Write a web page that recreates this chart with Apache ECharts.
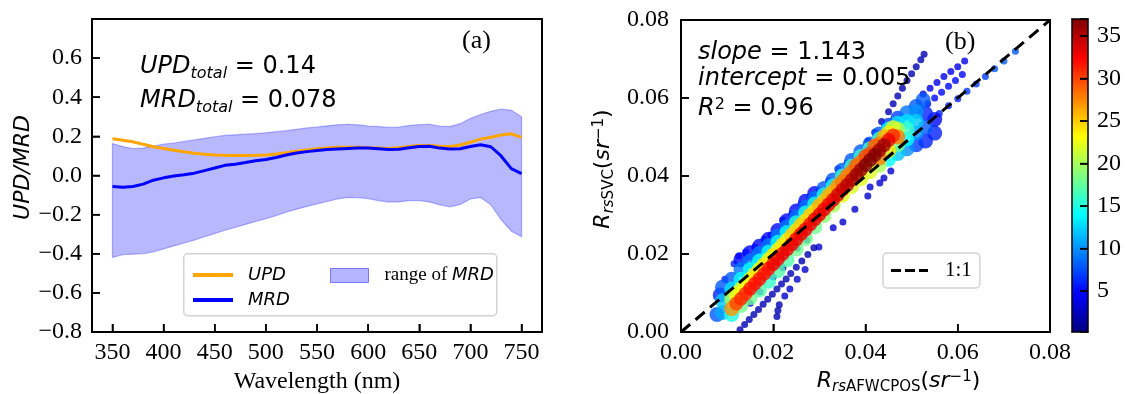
<!DOCTYPE html>
<html><head><meta charset="utf-8">
<script src="https://cdn.jsdelivr.net/npm/echarts@6/dist/echarts.min.js"></script>
<style>html,body{margin:0;padding:0;background:#fff}#c{width:1127px;height:394px}</style>
</head><body><div id="c"></div>
<script>
// ---------- panel (a) data ----------
const wavelengths = [350,360,370,380,390,400,410,420,430,440,450,460,470,480,490,500,510,520,530,540,550,560,570,580,590,600,610,620,630,640,650,660,670,680,690,700,710,720,730,740,750];
const updValues = [0.188,0.180,0.172,0.160,0.147,0.138,0.129,0.121,0.114,0.109,0.105,0.103,0.102,0.102,0.103,0.105,0.110,0.117,0.124,0.131,0.137,0.141,0.144,0.145,0.144,0.142,0.140,0.138,0.142,0.148,0.153,0.153,0.150,0.148,0.156,0.170,0.186,0.196,0.207,0.213,0.195];
const mrdValues = [-0.056,-0.060,-0.056,-0.044,-0.024,-0.012,-0.003,0.004,0.012,0.025,0.038,0.052,0.058,0.066,0.075,0.082,0.092,0.105,0.115,0.122,0.128,0.133,0.136,0.138,0.140,0.140,0.137,0.133,0.134,0.142,0.148,0.150,0.140,0.136,0.137,0.148,0.157,0.147,0.100,0.035,0.010];
const mrdUpper = [0.163,0.148,0.138,0.140,0.150,0.160,0.166,0.174,0.182,0.190,0.198,0.205,0.208,0.211,0.214,0.218,0.224,0.229,0.236,0.243,0.248,0.254,0.259,0.262,0.259,0.253,0.250,0.246,0.248,0.255,0.260,0.262,0.252,0.250,0.265,0.292,0.312,0.328,0.340,0.333,0.300];
const mrdLower = [-0.419,-0.405,-0.402,-0.400,-0.390,-0.375,-0.360,-0.345,-0.330,-0.313,-0.297,-0.280,-0.265,-0.250,-0.235,-0.221,-0.205,-0.187,-0.172,-0.158,-0.145,-0.133,-0.120,-0.112,-0.113,-0.118,-0.128,-0.136,-0.135,-0.128,-0.128,-0.135,-0.150,-0.160,-0.148,-0.120,-0.112,-0.150,-0.225,-0.285,-0.313];

// ---------- tick positions ----------
const wavelengthTicks = [350,400,450,500,550,600,650,700,750];
const ratioTicks = [-0.6,-0.4,-0.2,0.0,0.2,0.4,0.6];
const rrsTicks = [0.02,0.04,0.06];
const densityTicks = [5,10,15,20,25,30,35];

// ---------- panel (b) data: [Rrs AFWCPOS, Rrs SVC, point density] ----------
const denseCloud = [
 [0.0078,0.0045,8],[0.0085,0.0095,6],
 [0.009,0.005,11],[0.009,0.008,12],[0.009,0.0115,8],
 [0.011,0.0045,15],[0.011,0.006,27],[0.011,0.0085,20],[0.011,0.011,13],[0.011,0.0135,8],
 [0.013,0.0068,18],[0.013,0.0085,31],[0.013,0.011,22],[0.013,0.0135,14],[0.013,0.016,9],[0.013,0.0185,5],
 [0.015,0.0088,18],[0.015,0.0111,32],[0.015,0.0135,22],[0.015,0.016,14],[0.015,0.0182,9],[0.015,0.0203,5],
 [0.017,0.0108,17],[0.017,0.0136,32],[0.017,0.016,23],[0.017,0.0182,14],[0.017,0.0202,9],[0.017,0.022,5],
 [0.019,0.013,16],[0.019,0.0162,32],[0.019,0.0185,23],[0.019,0.0205,14],[0.019,0.0222,9],[0.019,0.0238,5],
 [0.021,0.0157,17],[0.021,0.0187,33],[0.021,0.021,23],[0.021,0.023,14],[0.021,0.0246,9],[0.021,0.026,5],
 [0.023,0.0185,17],[0.023,0.0212,33],[0.023,0.0235,23],[0.023,0.0255,14],[0.023,0.027,9],[0.023,0.0285,5],
 [0.025,0.0213,18],[0.025,0.0238,33],[0.025,0.026,24],[0.025,0.028,15],[0.025,0.0295,9],[0.025,0.031,5],
 [0.027,0.024,18],[0.027,0.0263,33],[0.027,0.0285,24],[0.027,0.0305,15],[0.027,0.032,9],[0.027,0.0335,5],
 [0.029,0.027,18],[0.029,0.0289,33],[0.029,0.031,24],[0.029,0.0328,15],[0.029,0.0342,9],[0.029,0.0355,5],
 [0.031,0.0298,19],[0.031,0.0314,33],[0.031,0.0335,25],[0.031,0.0352,15],[0.031,0.0368,8],
 [0.033,0.0325,20],[0.033,0.0339,33],[0.033,0.036,26],[0.033,0.0375,15],[0.033,0.039,8],
 [0.035,0.035,22],[0.035,0.0365,34],[0.035,0.0385,28],[0.035,0.040,16],[0.035,0.0415,8],
 [0.037,0.0373,22],[0.037,0.039,35],[0.037,0.041,28],[0.037,0.0425,16],[0.037,0.044,8],
 [0.039,0.0393,22],[0.039,0.0416,36],[0.039,0.0435,28],[0.039,0.045,16],[0.039,0.0462,8],
 [0.041,0.0411,22],[0.041,0.0441,37],[0.041,0.0458,30],[0.041,0.047,16],[0.041,0.0482,8],
 [0.043,0.0428,20],[0.043,0.0446,28],[0.043,0.0466,36],[0.043,0.0482,28],[0.043,0.0495,16],[0.043,0.0508,8],
 [0.045,0.0443,14],[0.045,0.0465,24],[0.045,0.0492,33],[0.045,0.051,24],[0.045,0.052,14],[0.045,0.053,7],
 [0.047,0.0458,12],[0.047,0.048,18],[0.047,0.050,28],[0.047,0.052,20],[0.047,0.0535,13],[0.047,0.0548,7],
 [0.049,0.047,10],[0.049,0.0495,14],[0.049,0.052,16],[0.049,0.054,13],[0.049,0.0562,9],
 [0.051,0.048,7],[0.051,0.051,10],[0.051,0.054,12],[0.051,0.0565,10],[0.051,0.0578,8],
 [0.053,0.049,6],[0.053,0.0525,8],[0.053,0.056,6],[0.0525,0.0595,8],
 [0.055,0.051,6],[0.055,0.0545,5],
 [0.012,0.0073,30],[0.014,0.0098,31],[0.016,0.0124,32],[0.018,0.0149,32],[0.020,0.0174,33],[0.022,0.0200,33],[0.024,0.0225,33],[0.026,0.0251,33],[0.028,0.0276,33],[0.030,0.0301,33],[0.032,0.0327,33],[0.034,0.0352,34],[0.036,0.0377,35],[0.038,0.0403,36],[0.040,0.0428,37],[0.042,0.0454,37],[0.044,0.0479,36],[0.046,0.0504,31],
 [0.012,0.0097,23],[0.014,0.0121,23],[0.016,0.0147,24],[0.018,0.0172,24],[0.020,0.0197,24],[0.022,0.0223,24],[0.024,0.0248,25],[0.026,0.0274,25],[0.028,0.0299,25],[0.030,0.0324,26],[0.032,0.0350,26],[0.034,0.0375,27],[0.036,0.0400,28],[0.038,0.0426,29],[0.040,0.0451,30],[0.042,0.0477,29],[0.044,0.0500,26],[0.046,0.0524,22]
];
const sparsePoints = [
 [0.0128,0.0006,2],[0.0138,0.0019,2],[0.0148,0.0032,2],[0.0158,0.0045,2],[0.0168,0.0058,2],[0.0178,0.0071,2],[0.0188,0.0084,2],[0.0198,0.0097,2],[0.0208,0.0110,2],[0.0218,0.0123,2],[0.0228,0.0136,2],[0.0238,0.0150,2],[0.0250,0.0166,2],[0.0262,0.0182,2],[0.0275,0.0199,2],[0.0288,0.0216,2],
 [0.0208,0.0040,2],[0.0210,0.0055,2],[0.0213,0.0070,2],[0.0225,0.0092,3],[0.0236,0.0110,3],[0.0252,0.0135,3],[0.0269,0.0160,3],[0.0299,0.0218,3],[0.0330,0.0267,3],[0.0351,0.0282,3],[0.0377,0.0315,3],[0.0405,0.0349,3],[0.0410,0.0372,3],[0.0431,0.0382,3],[0.0440,0.0395,3],[0.0455,0.0413,3],
 [0.0150,0.0074,3],[0.0171,0.0103,3],[0.0200,0.0141,3],[0.0221,0.0165,3],[0.0252,0.0215,3],[0.0273,0.0236,3],
 [0.0095,0.0135,6],[0.0115,0.0175,6],[0.0125,0.0195,5],[0.0140,0.0205,6],[0.0160,0.0218,5],[0.0180,0.0238,6],[0.0195,0.0248,5],[0.0220,0.0287,6],[0.0240,0.0302,5],[0.0260,0.0327,6],[0.0280,0.0347,5],[0.0300,0.0363,6],[0.0320,0.0388,5],[0.0340,0.0418,6],[0.0360,0.0433,5],[0.0380,0.0453,6],
 [0.0405,0.0490,2],[0.0420,0.0512,2],[0.0435,0.0540,2],[0.0450,0.0565,2],[0.0460,0.0585,2],[0.0470,0.0605,2],[0.0480,0.0625,2],[0.0490,0.0645,2],[0.0500,0.0662,2],[0.0510,0.0680,2],[0.0520,0.0698,2],[0.0527,0.0712,2],
 [0.0525,0.0610,4],[0.0540,0.0625,4],[0.0555,0.0640,4],[0.0570,0.0655,4],[0.0585,0.0668,4],[0.0600,0.0680,4],[0.0615,0.0695,4],
 [0.0535,0.0585,5],[0.0550,0.0600,5],[0.0565,0.0615,5],[0.0580,0.0630,5],[0.0595,0.0645,5],[0.0610,0.0660,5],
 [0.0560,0.0560,6],[0.0580,0.0580,6],[0.0600,0.0598,6],[0.0620,0.0617,7],[0.0640,0.0636,7],[0.0660,0.0655,7],[0.0680,0.0675,8],[0.0700,0.0695,8],[0.0725,0.0720,8]
];
const oneToOne = [[0,0],[0.08,0.08]];
const densityRange = [0.2, 37];
const colorbarTop = [37];

// ---------- styling ----------
const jet = ['#00007f','#0000ff','#0080ff','#00ffff','#80ff80','#ffff00','#ff8000','#ff0000','#7f0000'];
const SERIF = '"Liberation Serif", "Times New Roman", serif';
const SANS = '"DejaVu Sans", sans-serif';
const mainTok = {fontFamily: SANS, fontSize: 24, color: '#000', padding: [0,0,3,0], verticalAlign: 'bottom'};
const mathRich = {
  i: Object.assign({}, mainTok, {fontStyle: 'italic'}),
  n: Object.assign({}, mainTok),
  s: {fontFamily: SANS, fontSize: 16, fontStyle: 'italic', color: '#000', verticalAlign: 'bottom'},
  p: {fontFamily: SANS, fontSize: 16, color: '#000', verticalAlign: 'top'}
};
const axRich = {
  i: {fontFamily: SANS, fontSize: 22, fontStyle: 'italic', color: '#000', padding: [0,0,3,0], verticalAlign: 'bottom'},
  n: {fontFamily: SANS, fontSize: 22, color: '#000', padding: [0,0,3,0], verticalAlign: 'bottom'},
  s: {fontFamily: SANS, fontSize: 15, fontStyle: 'italic', color: '#000', verticalAlign: 'bottom'},
  u: {fontFamily: SANS, fontSize: 15, color: '#000', verticalAlign: 'bottom'},
  p: {fontFamily: SANS, fontSize: 15, color: '#000', verticalAlign: 'top'}
};
const tick = () => ({show: true, inside: true, length: 8, lineStyle: {color: '#000', width: 1.5}});
const axLine = (w) => ({show: true, onZero: false, lineStyle: {color: '#000', width: w || 2}});
const lbl = {fontFamily: SERIF, fontSize: 24, color: '#000'};
const fmtA = v => {
  if (v > 0.7) return '';
  const s = Math.abs(v).toFixed(1);
  return (v < -1e-9 ? '\u2212' : '') + s;
};
const frameAxis = (extra) => Object.assign({axisLine: axLine(extra.w), axisTick: {show: false}, axisLabel: {show: false}, splitLine: {show: false}, z: 6}, extra);
const TICK_LEN = 8;
const tickLine = (x1, y1, x2, y2) => ({type: 'line', shape: {x1: x1, y1: y1, x2: x2, y2: y2}, style: {stroke: '#000', lineWidth: 1.5}});

const chart = echarts.init(document.getElementById('c'), null, {renderer: 'canvas'});
const sortByDensity = arr => arr.slice().sort((a, b) => a[2] - b[2]);
const gridBase = {show: false, containLabel: false, outerBoundsMode: 'none'};

chart.setOption({
  animation: false,
  backgroundColor: '#fff',
  grid: [
    Object.assign({left: 92, top: 19, width: 450, height: 313}, gridBase),
    Object.assign({left: 681, top: 20, width: 369, height: 312}, gridBase),
    Object.assign({left: 1072, top: 19, width: 16, height: 313}, gridBase)
  ],
  xAxis: [
    {gridIndex: 0, type: 'value', min: 330, max: 770, splitNumber: 9, minInterval: 50, maxInterval: 50, z: 6,
     axisLine: axLine(), axisTick: tick(), splitLine: {show: false},
     axisLabel: Object.assign({margin: 9, formatter: v => (v % 50 === 0 ? String(v) : '')}, lbl),
     name: 'Wavelength (nm)', nameLocation: 'middle', nameGap: 36, nameTextStyle: {fontFamily: SERIF, fontSize: 24, color: '#000'}},
    {gridIndex: 1, type: 'value', min: 0, max: 0.08, interval: 0.02, z: 6,
     axisLine: axLine(), axisTick: tick(), splitLine: {show: false},
     axisLabel: Object.assign({margin: 9, formatter: v => v.toFixed(2)}, lbl),
     name: '{i|R}{s|rs}{u|AFWCPOS}{n|(}{i|sr}{p|\u22121}{n|)}', nameLocation: 'middle', nameGap: 36,
     nameTextStyle: {rich: axRich, padding: [0,0,0,66]}},
    frameAxis({gridIndex: 2, type: 'category', data: ['c'], position: 'bottom', w: 1.5}),
    frameAxis({gridIndex: 0, type: 'value', min: 330, max: 770, position: 'top'}),
    frameAxis({gridIndex: 1, type: 'value', min: 0, max: 0.08, position: 'top'}),
    frameAxis({gridIndex: 2, type: 'category', data: ['c'], position: 'top', w: 1.5})
  ],
  yAxis: [
    {gridIndex: 0, type: 'value', min: -0.8, max: 0.8, interval: 0.2, z: 6,
     axisLine: axLine(), axisTick: tick(), splitLine: {show: false},
     axisLabel: Object.assign({margin: 10, formatter: fmtA}, lbl),
     name: 'UPD/MRD', nameLocation: 'middle', nameGap: 56,
     nameTextStyle: {fontFamily: SANS, fontStyle: 'italic', fontSize: 22, color: '#000', padding: [0,0,0,16]}},
    {gridIndex: 1, type: 'value', min: 0, max: 0.08, interval: 0.02, z: 6,
     axisLine: axLine(), axisTick: tick(), splitLine: {show: false},
     axisLabel: Object.assign({margin: 12, formatter: v => v.toFixed(2)}, lbl),
     name: '{i|R}{s|rs}{u|SVC}{n|(}{i|sr}{p|\u22121}{n|)}', nameLocation: 'middle', nameGap: 64,
     nameTextStyle: {rich: axRich, padding: [0,0,0,14]}},
    {gridIndex: 2, type: 'value', position: 'right', min: densityRange[0], max: densityRange[1], splitNumber: 7, minInterval: 5, maxInterval: 5, z: 6,
     axisLine: axLine(1.5), axisTick: tick(), splitLine: {show: false},
     axisLabel: Object.assign({margin: 9, formatter: v => (Math.abs(v % 5) < 1e-9 && v > 0 ? String(v) : '')}, lbl)},
    frameAxis({gridIndex: 0, type: 'value', min: -0.8, max: 0.8, position: 'right'}),
    frameAxis({gridIndex: 1, type: 'value', min: 0, max: 0.08, position: 'right'}),
    frameAxis({gridIndex: 2, type: 'value', min: densityRange[0], max: densityRange[1], position: 'left', w: 1.5})
  ],
  visualMap: [{type: 'continuous', show: false, min: densityRange[0], max: densityRange[1], dimension: 2, seriesIndex: [3, 4], inRange: {color: jet}}],
  legend: [
    {data: ['UPD', 'MRD'], orient: 'vertical', left: 188, top: 261, itemWidth: 40, itemHeight: 4, icon: 'rect', itemGap: 7, z: 10,
     textStyle: {fontFamily: SANS, fontStyle: 'italic', fontSize: 18, color: '#000', padding: [0,0,0,10]}},
    {data: [{name: 'range of MRD', icon: 'rect', itemStyle: {color: 'rgba(0,0,255,0.29)', borderColor: 'rgba(0,0,255,0.45)', borderWidth: 1}}],
     left: 325, top: 261, itemWidth: 38, itemHeight: 14, z: 10,
     formatter: () => '{a|range of }{b|MRD}',
     textStyle: {padding: [0,0,0,11], rich: {a: {fontFamily: SERIF, fontSize: 19, color: '#000'}, b: {fontFamily: SANS, fontStyle: 'italic', fontSize: 18, color: '#000'}}}},
    {data: [{name: '1:1', icon: 'path://M0,0H10V3H0Z M14,0H24V3H14Z M28,0H37V3H28Z', itemStyle: {color: '#000'}}],
     left: 883, top: 253, itemWidth: 37, itemHeight: 3, z: 10,
     backgroundColor: '#fff', borderColor: '#d3d3d3', borderWidth: 1.5, borderRadius: 4, padding: [7, 8, 7, 8],
     textStyle: {fontFamily: SERIF, fontSize: 21, color: '#000', padding: [0,0,0,12]}}
  ],
  graphic: [
    {type: 'rect', left: 183, top: 253, z: 5, shape: {width: 313, height: 62, r: 4}, style: {fill: 'rgba(255,255,255,0.85)', stroke: '#d3d3d3', lineWidth: 1.5}},
    {type: 'text', left: 140, top: 55, z: 6, style: {text: '{i|UPD}{s|total}{n| = 0.14}', rich: mathRich}},
    {type: 'text', left: 140, top: 89, z: 6, style: {text: '{i|MRD}{s|total}{n| = 0.078}', rich: mathRich}},
    {type: 'text', left: 462, top: 28, z: 6, style: {text: '(a)', font: '26px ' + SERIF, fill: '#000'}},
    {type: 'text', left: 698, top: 41, z: 6, style: {text: '{i|slope}{n| = 1.143}', rich: mathRich}},
    {type: 'text', left: 698, top: 67, z: 6, style: {text: '{i|intercept}{n| = 0.005}', rich: mathRich}},
    {type: 'text', left: 698, top: 97, z: 6, style: {text: '{i|R}{p|2}{n| = 0.96}', rich: mathRich}},
    {type: 'text', left: 945, top: 29, z: 6, style: {text: '(b)', font: '26px ' + SERIF, fill: '#000'}}
  ],
  series: [
    {name: 'range of MRD', type: 'custom', xAxisIndex: 0, yAxisIndex: 0, data: [[wavelengths[0], mrdUpper[0]]],
     itemStyle: {color: 'rgba(0,0,255,0.29)'}, z: 1,
     renderItem: (params, api) => {
       const pts = [];
       for (let i = 0; i < wavelengths.length; i++) pts.push(api.coord([wavelengths[i], mrdUpper[i]]));
       for (let i = wavelengths.length - 1; i >= 0; i--) pts.push(api.coord([wavelengths[i], mrdLower[i]]));
       return {type: 'polygon', shape: {points: pts}, style: {fill: 'rgba(0,0,255,0.28)', stroke: 'rgba(0,0,255,0.28)', lineWidth: 1.2}};
     }},
    {name: 'UPD', type: 'line', xAxisIndex: 0, yAxisIndex: 0, symbol: 'none', color: '#ffa500',
     data: wavelengths.map((w, i) => [w, updValues[i]]), lineStyle: {color: '#ffa500', width: 3}, z: 2},
    {name: 'MRD', type: 'line', xAxisIndex: 0, yAxisIndex: 0, symbol: 'none', color: '#0000ff',
     data: wavelengths.map((w, i) => [w, mrdValues[i]]), lineStyle: {color: '#0000ff', width: 3}, z: 3},
    {name: 'sparse', type: 'scatter', xAxisIndex: 1, yAxisIndex: 1, symbolSize: 7, data: sortByDensity(sparsePoints), z: 2},
    {name: 'cloud', type: 'scatter', xAxisIndex: 1, yAxisIndex: 1, symbolSize: d => (d[2] >= 30 ? 14 : 15), data: sortByDensity(denseCloud), z: 3},
    {name: '1:1', type: 'line', xAxisIndex: 1, yAxisIndex: 1, symbol: 'none', color: '#000', data: oneToOne,
     lineStyle: {color: '#000', width: 3, type: [12, 7]}, z: 5},
    {name: 'colorbar', type: 'bar', xAxisIndex: 2, yAxisIndex: 2, data: colorbarTop, barWidth: '100%', z: 1,
     itemStyle: {color: new echarts.graphic.LinearGradient(0, 1, 0, 0, jet.map((c, k) => ({offset: k / (jet.length - 1), color: c})))}},
    // inward tick marks, placed through each panel's own scales
    {name: 'ticksA', type: 'custom', xAxisIndex: 0, yAxisIndex: 0, data: [[wavelengths[0], 0]], z: 8, silent: true,
     renderItem: (params, api) => {
       const kids = [];
       wavelengthTicks.forEach(w => { const p = api.coord([w, -0.8]); kids.push(tickLine(p[0], p[1], p[0], p[1] - TICK_LEN)); });
       ratioTicks.forEach(v => { const p = api.coord([330, v]); kids.push(tickLine(p[0], p[1], p[0] + TICK_LEN, p[1])); });
       return {type: 'group', children: kids};
     }},
    {name: 'ticksB', type: 'custom', xAxisIndex: 1, yAxisIndex: 1, data: [[0, 0]], z: 8, silent: true,
     renderItem: (params, api) => {
       const kids = [];
       rrsTicks.forEach(v => {
         const px = api.coord([v, 0]); kids.push(tickLine(px[0], px[1], px[0], px[1] - TICK_LEN));
         const py = api.coord([0, v]); kids.push(tickLine(py[0], py[1], py[0] + TICK_LEN, py[1]));
       });
       return {type: 'group', children: kids};
     }},
    {name: 'ticksC', type: 'custom', xAxisIndex: 2, yAxisIndex: 2, data: [[0, 5]], z: 8, silent: true,
     renderItem: (params, api) => {
       const kids = [];
       const half = api.size([1, 0])[0] / 2;
       densityTicks.forEach(v => { const p = api.coord([0, v]); const xr = p[0] + half; kids.push(tickLine(xr, p[1], xr - TICK_LEN, p[1])); });
       return {type: 'group', children: kids};
     }}
  ]
});
</script></body></html>
